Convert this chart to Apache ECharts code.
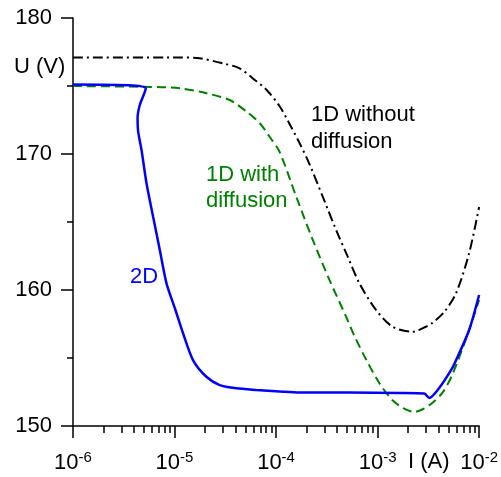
<!DOCTYPE html>
<html>
<head>
<meta charset="utf-8">
<script src="https://cdn.jsdelivr.net/npm/echarts@6/dist/echarts.min.js"></script>
<style>
	html, body { margin: 0; padding: 0; background: #fff; }
	#chart { width: 501px; height: 477px; }
</style>
</head>
<body>
<div id="chart"></div>
<script>
// x values are log10(I / A), y values are U in V
var logI2D = [-6.0, -5.41, -5.283, -5.342, -5.364, -5.358, -5.325, -5.276, -5.211, -5.145, -5.079, -4.991, -4.916, -4.818, -4.686, -4.555, -4.391, -4.195, -3.966, -3.769, -3.278, -2.786, -2.54, -2.491, -2.393, -2.275, -2.226, -2.098, -2.0];
var u2D = [175.11, 175.04, 174.83, 173.6, 172.65, 171.64, 170.29, 167.85, 165.39, 162.94, 160.49, 158.53, 156.82, 154.85, 153.62, 153.01, 152.77, 152.65, 152.54, 152.46, 152.46, 152.43, 152.39, 152.06, 152.79, 154.12, 154.85, 157.06, 159.63];

var logIWith = [-6.0, -5.243, -4.948, -4.683, -4.457, -4.29, -4.162, -4.064, -3.966, -3.801, -3.638, -3.474, -3.31, -3.228, -3.11, -2.983, -2.855, -2.747, -2.639, -2.55, -2.462, -2.363, -2.265, -2.098, -2.0];
var uWith = [175.0, 174.93, 174.83, 174.46, 173.97, 173.11, 172.28, 171.27, 170.17, 166.86, 163.68, 160.74, 158.04, 156.62, 154.85, 153.16, 151.91, 151.32, 151.03, 151.25, 151.69, 152.43, 153.75, 157.06, 159.26];

var logIWithout = [-6.0, -4.948, -4.752, -4.526, -4.359, -4.231, -4.093, -3.966, -3.867, -3.769, -3.671, -3.54, -3.408, -3.294, -3.179, -3.015, -2.852, -2.656, -2.524, -2.462, -2.344, -2.226, -2.098, -2.0];
var uWithout = [177.1, 177.1, 177.04, 176.67, 176.3, 175.57, 174.71, 173.53, 172.21, 170.81, 169.26, 166.86, 164.41, 162.45, 160.49, 158.53, 157.3, 156.93, 157.3, 157.57, 158.38, 159.78, 162.72, 166.1];

var xMajorTicks = [-6, -5, -4, -3, -2];
var yTicks = [150, 160, 170, 180];

function pairs(xs, ys){
	var out = [];
	for(var i = 0; i < xs.length; i++){
		out.push([xs[i], ys[i]]);
	}
	return out;
}

// minor ticks of the log axis: 2..9 in each decade
var xMinorTicks = [];
for(var d = xMajorTicks[0]; d < xMajorTicks[xMajorTicks.length - 1]; d++){
	for(var k = 2; k <= 9; k++){
		xMinorTicks.push(d + Math.log10(k));
	}
}

var fontFam = '"Liberation Sans", Arial, sans-serif';
var chart = echarts.init(document.getElementById('chart'));

var option = {
	animation: false,
	backgroundColor: '#fff',
	textStyle: { fontFamily: fontFam },
	grid: {
		left: 73,
		right: 21,
		top: 18,
		bottom: 51,
		containLabel: false
	},
	xAxis: [{
		type: 'value',
		min: xMajorTicks[0],
		max: xMajorTicks[xMajorTicks.length - 1],
		interval: 1,
		position: 'bottom',
		axisLine: { show: true, onZero: false, lineStyle: { color: '#000', width: 1.5 } },
		axisTick: { show: true, inside: false, length: 12, lineStyle: { color: '#000', width: 1.5 } },
		splitLine: { show: false },
		axisLabel: {
			color: '#000',
			fontSize: 22,
			fontFamily: fontFam,
			margin: 24,
			formatter: function(v){
				return '10{sup|' + v + '}';
			},
			rich: {
				sup: {
					fontSize: 15,
					fontFamily: fontFam,
					color: '#000',
					verticalAlign: 'bottom',
					padding: [0, 0, 10, 0]
				}
			}
		}
	}, {
		type: 'value',
		min: xMajorTicks[0],
		max: xMajorTicks[xMajorTicks.length - 1],
		position: 'bottom',
		axisLine: { show: false, onZero: false },
		axisTick: { show: true, inside: false, length: 7, customValues: xMinorTicks, lineStyle: { color: '#000', width: 1.5 } },
		axisLabel: { show: false },
		splitLine: { show: false }
	}],
	yAxis: {
		type: 'value',
		min: yTicks[0],
		max: yTicks[yTicks.length - 1],
		interval: 10,
		axisLine: { show: true, onZero: false, lineStyle: { color: '#000', width: 1.5 } },
		axisTick: { show: true, inside: false, length: 12, lineStyle: { color: '#000', width: 1.5 } },
		minorTick: { show: true, splitNumber: 2, length: 6, lineStyle: { color: '#000', width: 1.5 } },
		splitLine: { show: false },
		minorSplitLine: { show: false },
		axisLabel: {
			color: '#000',
			fontSize: 22,
			fontFamily: fontFam,
			margin: 21
		}
	},
	series: [
		{
			name: '1D without diffusion',
			type: 'line',
			data: pairs(logIWithout, uWithout),
			showSymbol: false,
			smooth: 0.3,
			lineStyle: { color: '#000', width: 2, type: [10, 4, 2, 4] }
		},
		{
			name: '1D with diffusion',
			type: 'line',
			data: pairs(logIWith, uWith),
			showSymbol: false,
			smooth: 0.3,
			lineStyle: { color: '#008000', width: 2, type: [9, 5] }
		},
		{
			name: '2D',
			type: 'line',
			data: pairs(logI2D, u2D),
			showSymbol: false,
			smooth: 0.25,
			lineStyle: { color: '#0000ff', width: 2.5 }
		}
	],
	graphic: [
		{ type: 'text', left: 14, top: 56, style: { text: 'U (V)', fill: '#000', font: '22px ' + fontFam } },
		{ type: 'text', left: 408, top: 451, style: { text: 'I (A)', fill: '#000', font: '22px ' + fontFam } },
		{ type: 'text', left: 311, top: 101, style: { text: '1D without\ndiffusion', fill: '#000', font: '22px ' + fontFam, lineHeight: 27 } },
		{ type: 'text', left: 206, top: 162, style: { text: '1D with\ndiffusion', fill: '#008000', font: '22px ' + fontFam, lineHeight: 26 } },
		{ type: 'text', left: 130, top: 266, style: { text: '2D', fill: '#0000ff', font: '22px ' + fontFam } }
	]
};
chart.setOption(option);
</script>
</body>
</html>
